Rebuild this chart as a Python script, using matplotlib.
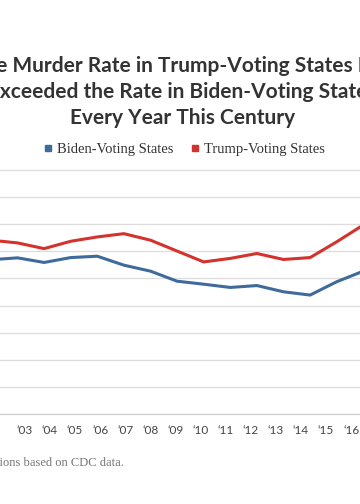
import matplotlib
matplotlib.use('Agg')
import matplotlib.pyplot as plt
from matplotlib.lines import Line2D

# Data (murder rate per 100k)
years = list(range(2002, 2017))
biden = [5.69, 5.76, 5.59, 5.77, 5.82, 5.49, 5.27, 4.90, 4.79, 4.67, 4.74, 4.51, 4.39, 4.88, 5.27]
trump = [6.41, 6.31, 6.10, 6.37, 6.53, 6.65, 6.41, 6.01, 5.61, 5.74, 5.92, 5.70, 5.77, 6.35, 6.97]
tick_years = list(range(2003, 2017))
tick_labels = ["\u2018%02d" % (y % 100) for y in tick_years]
series_names = ["Biden-Voting States", "Trump-Voting States"]
title_lines = ["The Murder Rate in Trump-Voting States Has",
               "Exceeded the Rate in Biden-Voting States",
               "Every Year This Century"]
source_text = "Source: Author's calculations based on CDC data."

W, H = 360, 504
BLUE = '#3e6b9b'
RED = '#d4322c'

fig = plt.figure(figsize=(W / 100, H / 100), dpi=100)

def fx(px):
    return px / W

def fy(py):
    return 1 - py / H

# axes geometry (extends beyond figure on both sides, like the cropped reference)
left_px, right_px = -35.7, 416.5
top_px, bot_px = 169.3, 414.3
ax = fig.add_axes([fx(left_px), fy(bot_px), (right_px - left_px) / W, (bot_px - top_px) / H])
ax.set_xlim(2001, 2018)
ax.set_ylim(0, 9.02)
ax.set_yticks(range(0, 10))
ax.tick_params(axis='y', left=False, labelleft=False)
ax.tick_params(axis='x', bottom=False, labelbottom=False)
ax.grid(axis='y', color='#dddddd', linewidth=0.9)
ax.set_axisbelow(True)
for s in ['top', 'right', 'left']:
    ax.spines[s].set_visible(False)
ax.spines['bottom'].set_color('#d0d0d0')
ax.spines['bottom'].set_linewidth(0.9)

ax.plot(years, biden, color=BLUE, linewidth=2.2, solid_joinstyle='miter', label=series_names[0])
ax.plot(years, trump, color=RED, linewidth=2.2, solid_joinstyle='miter', label=series_names[1])

# Category label axis (the reference spaces its year labels slightly tighter than the data)
lab_left, lab_right = -25.4, 401.3
lax = fig.add_axes([fx(lab_left), fy(bot_px), (lab_right - lab_left) / W, 0.001])
lax.set_xlim(2001, 2018)
lax.set_ylim(0, 1)
lax.patch.set_visible(False)
for s in lax.spines.values():
    s.set_visible(False)
lax.set_yticks([])
lax.set_xticks(tick_years)
lax.set_xticklabels(tick_labels)
lax.tick_params(axis='x', length=0, pad=7.5, labelsize=8.5, labelcolor='#444444')
for t in lax.get_xticklabels():
    t.set_fontfamily('Lato')

# Title
for i, line in enumerate(title_lines):
    fig.text(fx(182.5), fy([71.7, 98.3, 124.0][i]), line, ha='center', va='baseline',
             fontsize=15, fontweight='bold', color='#333333', family='Lato')

# Legend
handles = [Line2D([], [], linestyle='none', marker='s', markersize=4.5, color=BLUE),
           Line2D([], [], linestyle='none', marker='s', markersize=4.5, color=RED)]
fig.legend(handles, series_names, loc='center', bbox_to_anchor=(fx(184), fy(149)), ncol=2,
           frameon=False, handlelength=0.6, handletextpad=0.3, columnspacing=1.2,
           prop={'family': 'Liberation Serif', 'size': 10.5}, labelcolor='#333333')

# Footer
fig.text(fx(124), fy(466.5), source_text, ha='right', va='baseline', fontsize=9,
         color='#777777', family='Liberation Serif')

fig.savefig('out.png', dpi=100)
